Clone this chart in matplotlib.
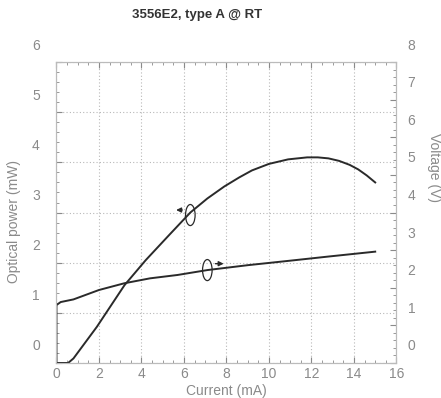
import numpy as np
import matplotlib
matplotlib.use("Agg")
import matplotlib.pyplot as plt
from matplotlib.patches import Ellipse
from matplotlib.ticker import MultipleLocator
import matplotlib.transforms as mtransforms

plt.rcParams['font.family'] = ['Liberation Sans', 'DejaVu Sans']

# L-I curve (optical power vs current)
current_li = [0.0, 0.55, 0.8, 1.9, 3.2, 4.2, 5.3, 6.3, 7.1, 7.9, 8.6, 9.2, 10.0, 10.9, 11.8, 12.3, 12.8, 13.3, 13.8, 14.2, 14.6, 15.0]
power_mw = [0.0, 0.0, 0.09, 0.72, 1.55, 2.05, 2.55, 3.0, 3.28, 3.52, 3.70, 3.84, 3.97, 4.06, 4.10, 4.10, 4.08, 4.03, 3.95, 3.86, 3.74, 3.6]

# I-V curve (voltage vs current)
current_iv = [0.0, 0.0, 0.2, 0.8, 2.0, 3.2, 4.4, 5.7, 7.1, 9.0, 11.0, 12.8, 15.0]
voltage_v = [0.0, 1.54, 1.62, 1.69, 1.94, 2.12, 2.25, 2.34, 2.47, 2.6, 2.72, 2.83, 2.96]

x_ticks = [0, 2, 4, 6, 8, 10, 12, 14, 16]
left_ticks = [0, 1, 2, 3, 4, 5, 6]
right_ticks = [0, 1, 2, 3, 4, 5, 6, 7, 8]

gray = "#8a8a8a"
line_col = "#2a2a2a"

fig = plt.figure(figsize=(4.41, 3.98), dpi=100)
ax = fig.add_axes([0.128, 0.088, 0.771, 0.756])
ax2 = ax.twinx()

ax.plot(current_li, power_mw, color=line_col, lw=1.4)
ax2.plot(current_iv, voltage_v, color=line_col, lw=1.4)

ax.set_xlim(0, 16)
ax.set_ylim(0, 6)
ax2.set_ylim(0, 8)
ax.set_xticks(x_ticks)
ax.set_yticks(left_ticks)
ax2.set_yticks(right_ticks)
ax.xaxis.set_minor_locator(MultipleLocator(0.5))
ax.yaxis.set_minor_locator(MultipleLocator(0.2))
ax2.yaxis.set_minor_locator(MultipleLocator(0.2))

ax.grid(True, which="major", color="#b8b8b8", ls=(0, (1, 2)), lw=0.8)

for a in (ax, ax2):
    a.tick_params(which="both", direction="in", colors=gray, labelsize=10)
    a.tick_params(which="major", length=4)
    a.tick_params(which="minor", length=2)
    for s in a.spines.values():
        s.set_color("#bbbbbb")
        s.set_linewidth(0.8)
ax.tick_params(which="both", top=True, labelcolor=gray)
ax.tick_params(axis="y", pad=12)
ax2.tick_params(axis="y", pad=8)
ax.tick_params(axis="x", pad=3)

# tick labels in the reference sit higher than their ticks
offset = mtransforms.ScaledTranslation(0, 0.18, fig.dpi_scale_trans)
for lab in ax.get_yticklabels() + ax2.get_yticklabels():
    lab.set_transform(lab.get_transform() + offset)

ax.set_xlabel("Current (mA)", color=gray, fontsize=10, labelpad=2)
ax.set_ylabel("Optical power (mW)", color=gray, fontsize=10, labelpad=4)
ax2.set_ylabel("Voltage (V)", color=gray, fontsize=10, rotation=270, labelpad=6)
ax.yaxis.set_label_coords(-0.105, 0.47)
ax2.yaxis.set_label_coords(1.13, 0.65)

fig.text(0.447, 0.962, "3556E2, type A @ RT", ha="center", va="center",
         fontsize=9.5, fontweight="bold", color="#333333")

# curve identification markers
i_li = 6.3
p_li = np.interp(i_li, current_li, power_mw)
ax.add_patch(Ellipse((i_li, p_li - 0.05), 0.45, 0.42, fill=False, ec=line_col, lw=0.9))
ax.annotate("", xy=(5.5, p_li + 0.05), xytext=(6.05, p_li + 0.05),
            arrowprops=dict(arrowstyle="-|>", color=line_col, lw=1.0, mutation_scale=7))

i_iv = 7.1
v_iv = np.interp(i_iv, current_iv, voltage_v)
ax2.add_patch(Ellipse((i_iv, v_iv), 0.45, 0.56, fill=False, ec=line_col, lw=0.9))
ax2.annotate("", xy=(8.0, v_iv + 0.17), xytext=(7.35, v_iv + 0.17),
             arrowprops=dict(arrowstyle="-|>", color=line_col, lw=1.0, mutation_scale=7))

fig.savefig("out.png", dpi=100)
